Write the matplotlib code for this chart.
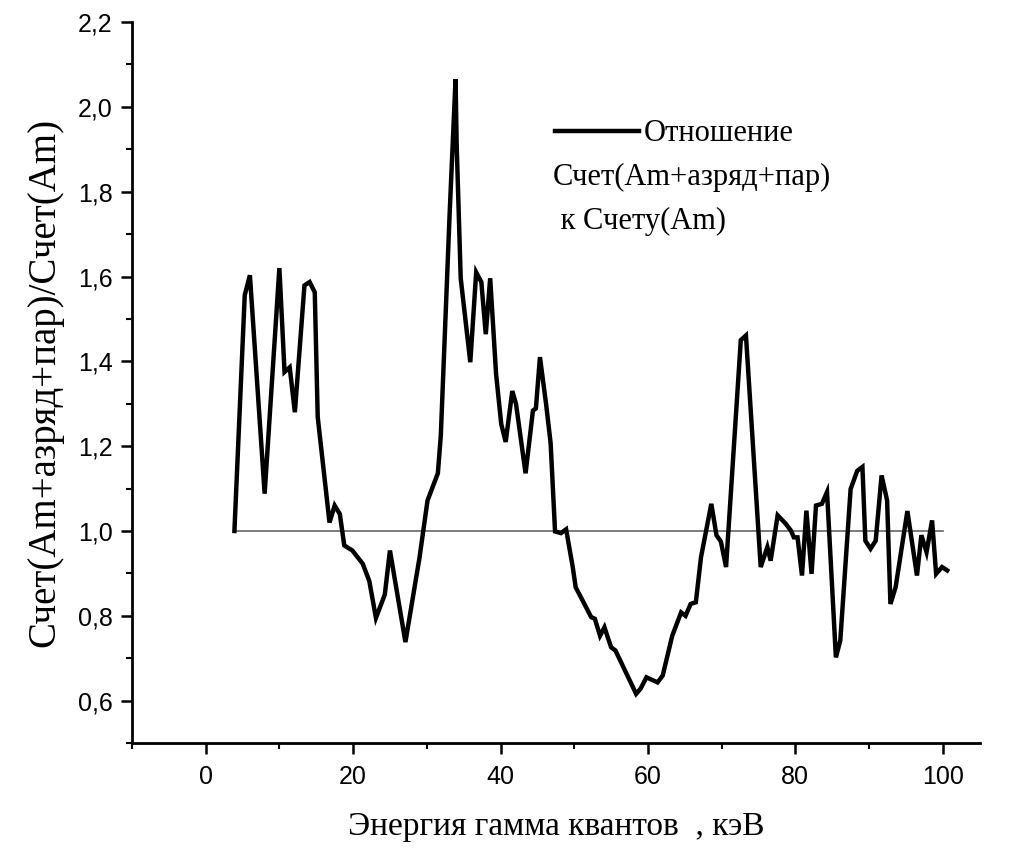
import matplotlib
matplotlib.use("Agg")
import matplotlib.pyplot as plt
from matplotlib.ticker import MultipleLocator, FuncFormatter

energy = [3.9, 5.3, 6.0, 8.0, 10.0, 10.7, 11.4, 12.1, 13.4, 14.1, 14.8, 15.2, 16.8, 17.5,
          18.2, 18.8, 19.9, 21.3, 22.2, 23.1, 24.3, 25.0, 27.1, 29.0, 30.1, 31.5, 31.9,
          33.1, 33.9, 34.05, 34.6, 35.9, 36.7, 37.4, 38.0, 38.6, 39.4, 40.1, 40.7, 41.6,
          42.1, 43.4, 44.4, 44.8, 45.35, 46.2, 46.8, 47.4, 48.2, 48.9, 49.8, 50.2, 50.9,
          52.3, 52.8, 53.5, 54.1, 55.0, 55.6, 58.4, 59.0, 59.8, 61.3, 62.0, 63.3, 64.5,
          65.1, 65.8, 66.5, 67.2, 68.6, 69.3, 69.9, 70.6, 72.6, 73.3, 75.3, 76.2, 76.65,
          77.6, 78.7, 79.4, 79.8, 80.3, 80.9, 81.5, 82.2, 82.8, 83.6, 84.3, 85.5, 86.1,
          87.5, 88.4, 89.1, 89.5, 90.2, 90.9, 91.7, 92.45, 92.9, 93.6, 95.2, 96.5, 97.1,
          97.8, 98.55, 99.1, 99.9, 100.6]
ratio = [1.0, 1.556, 1.603, 1.088, 1.62, 1.375, 1.386, 1.28, 1.579, 1.587, 1.563, 1.269,
         1.02, 1.06, 1.04, 0.966, 0.954, 0.923, 0.882, 0.795, 0.85, 0.954, 0.738, 0.936,
         1.072, 1.136, 1.225, 1.749, 2.065, 1.912, 1.596, 1.398, 1.61, 1.587, 1.464, 1.596,
         1.37, 1.252, 1.21, 1.33, 1.30, 1.136, 1.284, 1.289, 1.41, 1.297, 1.207, 0.999,
         0.995, 1.004, 0.915, 0.867, 0.844, 0.797, 0.793, 0.753, 0.773, 0.726, 0.718,
         0.616, 0.628, 0.655, 0.643, 0.659, 0.753, 0.808, 0.80, 0.828, 0.832, 0.938,
         1.064, 0.99, 0.975, 0.915, 1.45, 1.461, 0.915, 0.962, 0.93, 1.037, 1.017, 1.001,
         0.985, 0.985, 0.895, 1.048, 0.899, 1.06, 1.064, 1.092, 0.702, 0.742, 1.099,
         1.142, 1.151, 0.977, 0.958, 0.977, 1.131, 1.072, 0.828, 0.867, 1.047, 0.895,
         0.99, 0.95, 1.025, 0.899, 0.915, 0.907]

baseline_x = [4, 100]
baseline_y = [1.0, 1.0]

legend_label = "Отношение"
legend_extra = ["Счет(Am+азряд+пар)", " к Счету(Am)"]
xlabel = "Энергия гамма квантов  , кэВ"
ylabel = "Счет(Am+азряд+пар)/Счет(Am)"

fig = plt.figure(figsize=(10.12, 8.49), dpi=100)
ax = fig.add_axes([0.1304, 0.1248, 0.8376, 0.8492])

ax.plot(baseline_x, baseline_y, color="#666666", lw=1.2, zorder=1)
line, = ax.plot(energy, ratio, color="black", lw=3.2, solid_joinstyle="miter", zorder=2,
                label=legend_label)

ax.set_xlim(-10, 105)
ax.set_ylim(0.5, 2.2)

for s in ["top", "right"]:
    ax.spines[s].set_visible(False)
for s in ["left", "bottom"]:
    ax.spines[s].set_linewidth(2.0)

ax.xaxis.set_major_locator(MultipleLocator(20))
ax.xaxis.set_minor_locator(MultipleLocator(10))
ax.yaxis.set_major_locator(MultipleLocator(0.2))
ax.yaxis.set_minor_locator(MultipleLocator(0.1))
ax.yaxis.set_major_formatter(FuncFormatter(lambda v, p: f"{v:.1f}".replace(".", ",")))
ax.tick_params(which="major", direction="out", length=8, width=1.8, labelsize=18)
ax.tick_params(which="minor", direction="out", length=4.5, width=1.5)
ax.tick_params(axis="y", pad=6)
ax.tick_params(axis="x", pad=8)
for lab in ax.get_xticklabels() + ax.get_yticklabels():
    lab.set_fontfamily("Liberation Sans")

ax.set_xlabel(xlabel, fontfamily="Liberation Serif", fontsize=24, labelpad=16)
ax.set_ylabel(ylabel, fontfamily="Liberation Serif", fontsize=28, labelpad=10)

leg = ax.legend(handles=[line], loc="center left", bbox_to_anchor=(0.499, 0.845),
                frameon=False, handlelength=2.75, handletextpad=0.17,
                prop={"family": "Liberation Serif", "size": 22}, borderaxespad=0,
                borderpad=0)
ax.text(0.4965, 0.784, legend_extra[0], transform=ax.transAxes,
        fontfamily="Liberation Serif", fontsize=22, va="center", ha="left")
ax.text(0.4965, 0.723, legend_extra[1], transform=ax.transAxes,
        fontfamily="Liberation Serif", fontsize=22, va="center", ha="left")

fig.savefig("out.png", dpi=100, facecolor="white")
